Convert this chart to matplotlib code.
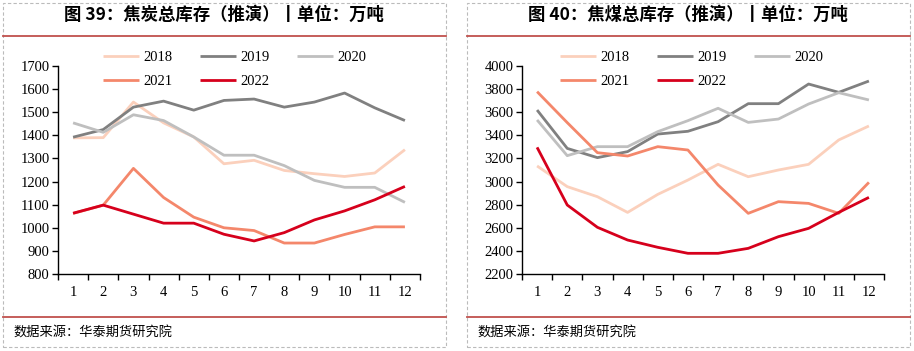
import matplotlib.pyplot as plt
from matplotlib.patches import Rectangle
from matplotlib.lines import Line2D

plt.rcParams['font.family'] = ['Liberation Serif', 'Noto Sans CJK SC']

months = [str(m) for m in range(1, 13)]
years = ['2018', '2019', '2020', '2021', '2022']
colors = ['#FBD0BC', '#808080', '#BFBFBF', '#F4876B', '#D6001C']

# 焦炭总库存
coke_2018 = [1389, 1390, 1544, 1454, 1393, 1277, 1292, 1248, 1234, 1222, 1237, 1338]
coke_2019 = [1392, 1425, 1522, 1548, 1509, 1551, 1557, 1522, 1544, 1583, 1519, 1464]
coke_2020 = [1454, 1413, 1489, 1464, 1393, 1314, 1314, 1269, 1205, 1175, 1175, 1110]
coke_2021 = [1062, 1098, 1257, 1131, 1046, 1000, 988, 934, 934, 971, 1004, 1004]
coke_2022 = [1063, 1098, 1059, 1020, 1020, 972, 943, 979, 1034, 1073, 1121, 1179]

# 焦煤总库存
coal_2018 = [3135, 2956, 2869, 2733, 2889, 3013, 3149, 3042, 3100, 3149, 3360, 3481]
coal_2019 = [3619, 3287, 3207, 3259, 3411, 3435, 3518, 3674, 3674, 3844, 3772, 3870]
coal_2020 = [3533, 3224, 3302, 3302, 3432, 3527, 3634, 3512, 3541, 3671, 3769, 3706]
coal_2021 = [3778, 3510, 3250, 3221, 3302, 3273, 2970, 2725, 2826, 2811, 2725, 2993]
coal_2022 = [3296, 2797, 2604, 2494, 2431, 2379, 2379, 2422, 2523, 2595, 2733, 2863]

panels = [
    ('图 39：焦炭总库存（推演）丨单位：万吨',
     [coke_2018, coke_2019, coke_2020, coke_2021, coke_2022],
     (800, 1700), 100, 3, 58, 45),
    ('图 40：焦煤总库存（推演）丨单位：万吨',
     [coal_2018, coal_2019, coal_2020, coal_2021, coal_2022],
     (2200, 4000), 200, 467, 522, 38),
]

W, H = 914, 351
fig = plt.figure(figsize=(W / 100, H / 100), dpi=100)
cjk = ['Noto Sans CJK SC', 'DejaVu Sans']

for title, series, ylim, step, px, axl, legx in panels:
    # dashed panel frame
    fig.add_artist(Rectangle((px / W, 1 - 347 / H), 443 / W, 344 / H,
                             transform=fig.transFigure, fill=False,
                             edgecolor='#BBBBBB', lw=0.8, ls=(0, (3, 2))))
    for yy in (36, 317):
        fig.add_artist(Line2D([px / W, (px + 443) / W], [1 - yy / H, 1 - yy / H],
                              transform=fig.transFigure, color='#C0504D', lw=1.3))
    fig.text((px + 221) / W, 1 - 15 / H, title, ha='center', va='center',
             fontsize=12.5, fontweight='bold', family=cjk)
    fig.text((px + 10) / W, 1 - 333 / H, '数据来源：华泰期货研究院', ha='left',
             va='center', fontsize=9.5, family=cjk)

    ax = fig.add_axes([axl / W, 1 - 274 / H, 362 / W, 208 / H])
    x = list(range(12))
    lines = {}
    for name, vals, c in zip(years, series, colors):
        lines[name], = ax.plot(x, vals, color=c, lw=2, label=name,
                               solid_capstyle='butt')
    ax.set_xlim(-0.5, 11.5)
    ax.set_ylim(*ylim)
    ax.set_yticks(range(ylim[0], ylim[1] + 1, step))
    ax.set_xticks(x)
    ax.set_xticklabels(months)
    ax.set_xticks([i - 0.5 for i in range(13)], minor=True)
    ax.tick_params(axis='x', which='major', length=0, pad=9, labelsize=10.5)
    ax.tick_params(axis='x', which='minor', length=4, direction='out', width=1)
    ax.tick_params(axis='y', length=4, width=1, labelsize=10.5, pad=2)
    for s in ('top', 'right'):
        ax.spines[s].set_visible(False)
    for s in ('left', 'bottom'):
        ax.spines[s].set_linewidth(1)
    order = ['2018', '2021', '2019', '2022', '2020']
    ax.legend([lines[k] for k in order], order, ncol=3, loc='upper left',
              bbox_to_anchor=(legx / 362, 1.075), frameon=False, fontsize=10.5,
              handlelength=2.5, handletextpad=0.25, columnspacing=1.9,
              labelspacing=0.75, borderpad=0, borderaxespad=0)

fig.savefig('out.png', dpi=100)
